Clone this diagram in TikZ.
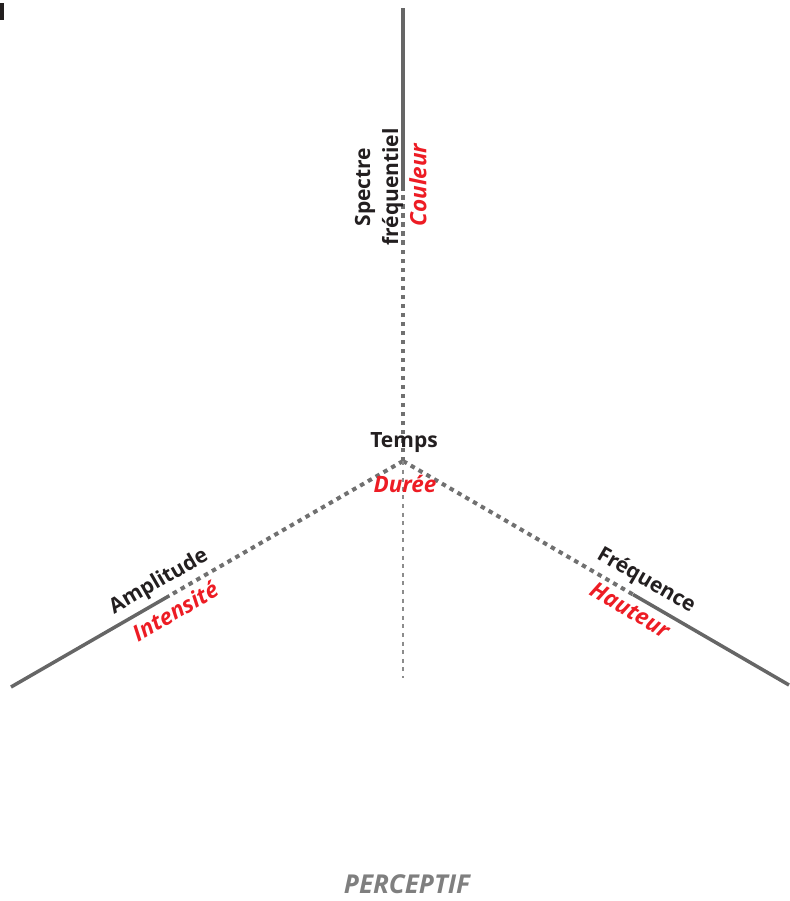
\documentclass[tikz,border=0pt]{standalone}
\usepackage{fontspec}
\setmainfont{Open Sans}
\usetikzlibrary{calc}
\definecolor{axisgray}{HTML}{666666}
\definecolor{dotgray}{HTML}{707070}
\definecolor{thingray}{HTML}{8C8C8C}
\definecolor{percred}{HTML}{ED1C24}
\definecolor{physblack}{HTML}{231F20}
\definecolor{titlegray}{HTML}{7F7F7F}

\begin{document}
\begin{tikzpicture}[x=1pt, y=-1pt,
  solidaxis/.style={draw=axisgray, line width=3.5pt},
  dotaxis/.style={draw=dotgray, line width=4pt, dash pattern=on 4.5pt off 4.5pt},
  thinaxis/.style={draw=thingray, line width=2pt, dash pattern=on 4pt off 4.6pt},
  phys/.style={font=\bfseries\fontsize{21}{28}\selectfont, text=physblack, inner sep=0},
  perc/.style={font=\bfseries\itshape\fontsize{22.5}{28}\selectfont, text=percred, inner sep=0}]
\useasboundingbox (0,0) rectangle (789,901);
\fill[physblack] (0,3) rectangle (3.5,20);
% axes
\coordinate (C) at (403,461);
\coordinate (top) at (403,8);
\coordinate (left) at (11,687);
\coordinate (right) at (789,685);
\coordinate (bottom) at (403,678);
\foreach \e in {top,left,right}
  \coordinate (\e mid) at ($(C)!0.596!(\e)$);
\foreach \e in {top,left,right}{
  \draw[dotaxis] (C) -- (\e mid);
  \draw[solidaxis] (\e mid) -- (\e);}
\draw[thinaxis] (C) -- (bottom);
% labels
\node[phys, rotate=90, align=center] (spectre) at (379,187) {Spectre\\fréquentiel};
\node[perc, rotate=90] (couleur) at (418,185) {Couleur};
\node[phys] (temps) at (404,443) {Temps};
\node[perc] (duree) at (405,484) {Durée};
\node[phys, rotate=30] (amplitude) at (159,582) {Amplitude};
\node[perc, rotate=30] (intensite) at (175,611) {Intensité};
\node[phys, rotate=-30] (frequence) at (646,581) {Fréquence};
\node[perc, rotate=-30] (hauteur) at (630,610) {Hauteur};
\node[font=\bfseries\itshape\fontsize{26}{30}\selectfont, text=titlegray, inner sep=0]
  (perceptif) at (407,884) {PERCEPTIF};
\end{tikzpicture}
\end{document}
